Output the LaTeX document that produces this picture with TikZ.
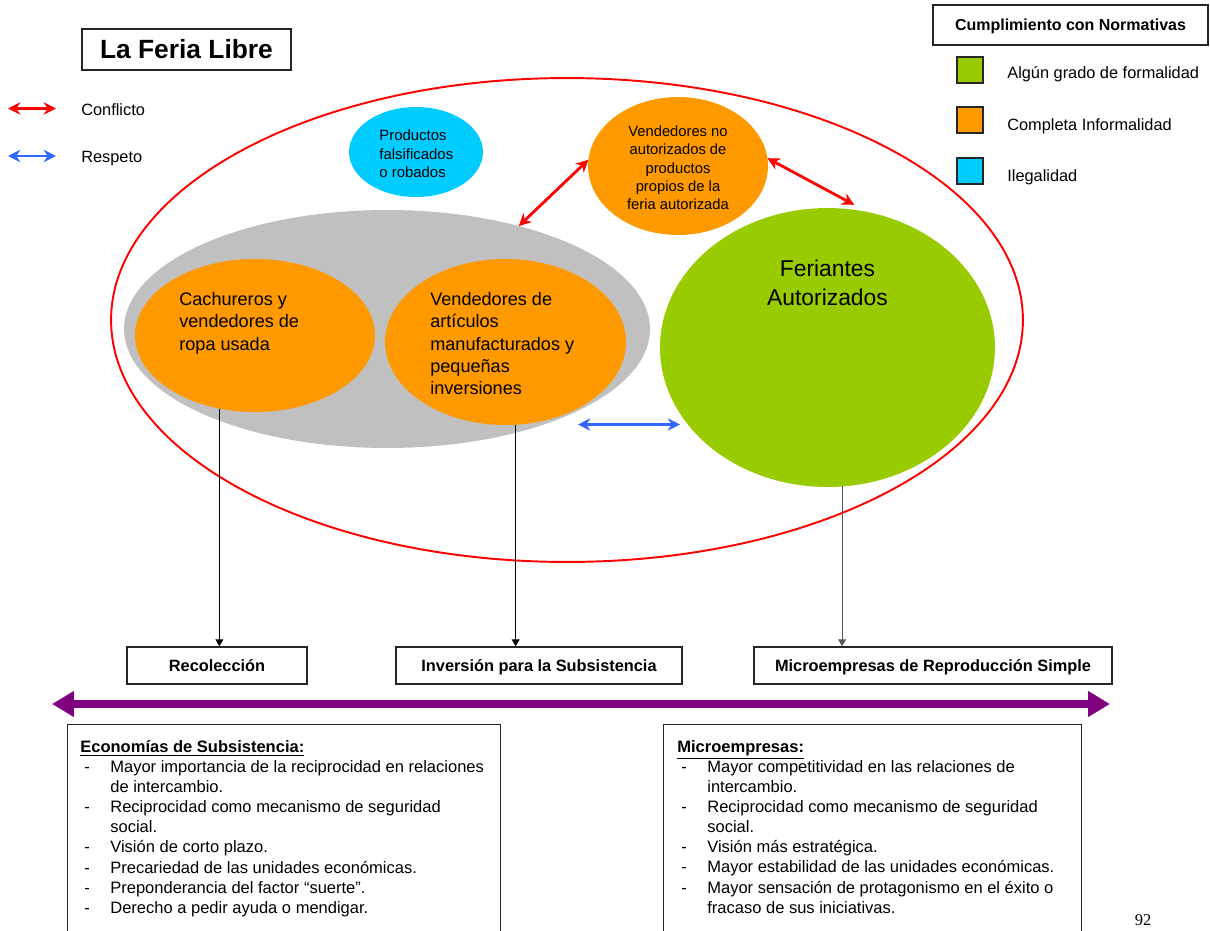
\documentclass[tikz,border=0pt]{standalone}
\usepackage{fontspec}
\setmainfont{Liberation Sans}
\newfontfamily\paginafont{Liberation Serif}
\usetikzlibrary{shapes.geometric,arrows.meta}

\definecolor{naranja}{RGB}{255,153,0}
\definecolor{verde}{RGB}{153,204,0}
\definecolor{celeste}{RGB}{0,204,255}
\definecolor{gris}{RGB}{192,192,192}
\definecolor{morado}{RGB}{128,0,128}
\definecolor{azul}{RGB}{51,102,255}
\definecolor{rojo}{RGB}{255,0,0}

\newcommand{\guion}{\makebox[0.6cm][l]{\hspace{0.08cm}-}}
\newcommand{\sangria}{\hspace*{0.6cm}}

\begin{document}
\begin{tikzpicture}[x=0.02cm, y=-0.02cm,
    grupo/.style={ellipse, inner sep=0pt, outer sep=0pt},
    texto/.style={inner sep=0pt, align=left, font=\fontsize{10.3}{12.7}\selectfont},
    caja/.style={draw=black!85, line width=0.8pt, inner sep=0pt, text height=1.6ex,
      text depth=0.35ex, font=\fontsize{9.3}{11}\selectfont\bfseries},
    cuadro/.style={draw=black!85, line width=0.7pt, minimum size=0.52cm, inner sep=0pt},
    leyenda/.style={anchor=base west, inner sep=0pt, font=\fontsize{9.3}{11}\selectfont},
    conflicto/.style={color=rojo, line width=1.6pt,
      {Stealth[length=7pt,width=7pt]}-{Stealth[length=7pt,width=7pt]}},
    respeto/.style={color=azul, line width=1.6pt,
      {Stealth[length=7pt,width=7pt]}-{Stealth[length=7pt,width=7pt]}},
    flecha/.style={line width=0.6pt, -{Triangle[length=4pt,width=4.5pt]}},
    eje/.style={color=morado, line width=4.5pt,
      {Triangle[length=12.5pt,width=14pt]}-{Triangle[length=12.5pt,width=14pt]}},
    marco/.style={draw=black!85, line width=0.8pt, inner sep=0pt, anchor=north west},
    lista/.style={inner sep=0pt, anchor=north west, align=left, font=\fontsize{9.4}{11.44}\selectfont}
  ]
  \fill[white] (0,0) rectangle (1210,930);
  \useasboundingbox (0,0) rectangle (1210,930);

  % Titulo y leyendas
  \node[caja, minimum width=4.18cm, minimum height=0.82cm, text height=2.2ex,
    font=\fontsize{15}{18}\selectfont\bfseries] (titulo) at (186.5,49.5) {La Feria Libre};
  \coordinate (conf-a) at (8,108.5);
  \coordinate (conf-b) at (56,108.5);
  \draw[conflicto] (conf-a) -- (conf-b);
  \node[leyenda] (conf-lbl) at (81,115) {Conflicto};
  \coordinate (resp-a) at (8,156);
  \coordinate (resp-b) at (56,156);
  \draw[respeto] (resp-a) -- (resp-b);
  \node[leyenda] (resp-lbl) at (81,162) {Respeto};

  \node[caja, minimum width=5.5cm, minimum height=0.8cm,
    font=\fontsize{9.1}{11}\selectfont\bfseries] (normas) at (1070.5,25) {Cumplimiento con Normativas};
  \node[cuadro, fill=verde] (sq-verde) at (970,70) {};
  \node[cuadro, fill=naranja] (sq-naranja) at (970,120) {};
  \node[cuadro, fill=celeste] (sq-celeste) at (970,171) {};
  \node[leyenda] (lbl-verde) at (1007,78) {Algún grado de formalidad};
  \node[leyenda] (lbl-naranja) at (1007,130) {Completa Informalidad};
  \node[leyenda] (lbl-celeste) at (1007,181) {Ilegalidad};

  % La feria
  \node[grupo, draw=rojo, line width=1.1pt, minimum width=18.24cm, minimum height=9.68cm] (feria) at (567,320) {};
  \node[grupo, fill=gris, minimum width=10.52cm, minimum height=4.76cm] (gris) at (387,329) {};
  \node[grupo, fill=naranja, minimum width=4.8cm, minimum height=3.06cm] (cach) at (255,335.5) {};
  \node[grupo, fill=naranja, minimum width=4.82cm, minimum height=3.32cm] (artic) at (505.5,342) {};
  \node[grupo, fill=verde, minimum width=6.7cm, minimum height=5.58cm] (feri) at (827.5,347.5) {};
  \node[grupo, fill=naranja, minimum width=3.6cm, minimum height=2.76cm] (noaut) at (678,166) {};
  \node[grupo, fill=celeste, minimum width=2.68cm, minimum height=1.8cm] (falsi) at (416,152) {};

  \node[texto, anchor=north west] (cach-txt) at (179,292) {Cachureros y\\vendedores de\\ropa usada};
  \node[texto, anchor=north west] (artic-txt) at (430,292) {Vendedores de\\artículos\\manufacturados y\\pequeñas\\inversiones};
  \node[texto, anchor=north, align=center, font=\fontsize{13}{16.5}\selectfont] (feri-txt) at (827.5,259.5) {Feriantes\\Autorizados};
  \node[texto, anchor=north, align=center, font=\fontsize{8.4}{10.4}\selectfont] (noaut-txt) at (678,125.5)
    {Vendedores no\\autorizados de\\productos\\propios de la\\feria autorizada};
  \node[texto, anchor=north west, font=\fontsize{8.5}{10.5}\selectfont] (falsi-txt) at (379,129.6)
    {Productos\\falsificados\\o robados};

  % Relaciones
  \draw[conflicto] (gris.38) -- (noaut.176);
  \draw[conflicto] (noaut.5) -- ([yshift=0.1cm]feri.79);
  \coordinate (resp-l) at (578,424.5);
  \coordinate (resp-r) at (680,424.5);
  \draw[respeto] (resp-l) -- (resp-r);

  % Tipos de unidad
  \node[caja, minimum width=3.6cm, minimum height=0.74cm] (recol) at (217,665.5) {Recolección};
  \node[caja, minimum width=5.72cm, minimum height=0.74cm] (inver) at (539,665.5) {Inversión para la Subsistencia};
  \node[caja, minimum width=7.16cm, minimum height=0.74cm] (micro) at (933,665.5) {Microempresas de Reproducción Simple};
  \draw[flecha] (cach.244) -- (cach.244 |- recol.north);
  \draw[flecha] (artic.277) -- (artic.277 |- inver.north);
  \draw[flecha, black!65] (feri.276) -- (feri.276 |- micro.north);

  \coordinate (eje-a) at (52,704);
  \coordinate (eje-b) at (1110,704);
  \draw[eje] (eje-a) -- (eje-b);

  % Caracteristicas
  \node[marco, minimum width=8.66cm, minimum height=5.2cm] (econ) at (67,724) {};
  \node[marco, minimum width=8.36cm, minimum height=5.2cm] (empr) at (663,724) {};
  \node[lista] (econ-txt) at (80,740) {\underline{\textbf{Economías de Subsistencia:}}\\
    \guion Mayor importancia de la reciprocidad en relaciones\\
    \sangria de intercambio.\\
    \guion Reciprocidad como mecanismo de seguridad\\
    \sangria social.\\
    \guion Visión de corto plazo.\\
    \guion Precariedad de las unidades económicas.\\
    \guion Preponderancia del factor “suerte”.\\
    \guion Derecho a pedir ayuda o mendigar.};
  \node[lista] (empr-txt) at (677,740) {\underline{\textbf{Microempresas:}}\\
    \guion Mayor competitividad en las relaciones de\\
    \sangria intercambio.\\
    \guion Reciprocidad como mecanismo de seguridad\\
    \sangria social.\\
    \guion Visión más estratégica.\\
    \guion Mayor estabilidad de las unidades económicas.\\
    \guion Mayor sensación de protagonismo en el éxito o\\
    \sangria fracaso de sus iniciativas.};

  \node[anchor=base, inner sep=0pt, font=\paginafont\fontsize{9.4}{11}\selectfont] (pagina) at (1143,925) {92};
\end{tikzpicture}
\end{document}
